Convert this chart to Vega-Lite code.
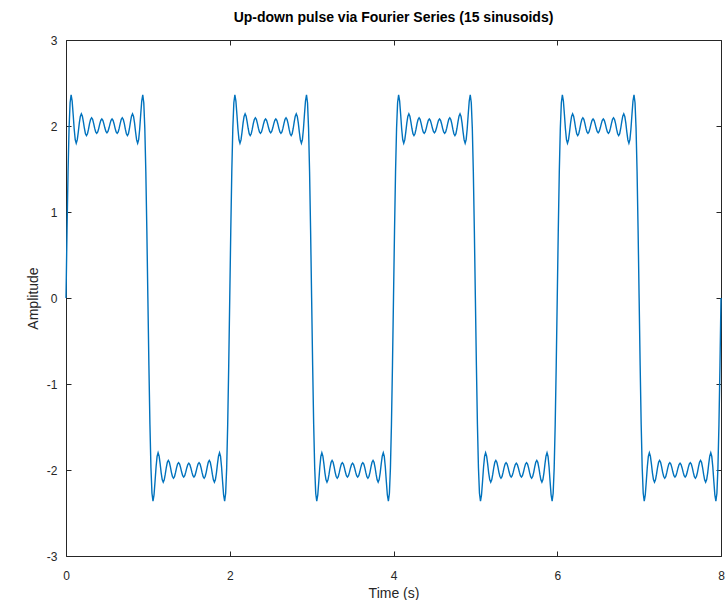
{
"$schema": "https://vega.github.io/schema/vega-lite/v6.json",
"width": 655, "height": 516,
"autosize": {"type": "none"},
"padding": {"left": 66, "top": 40, "right": 5, "bottom": 44},
"title": {"text": "Up-down pulse via Fourier Series (15 sinusoids)", "fontSize": 14, "fontWeight": "bold", "font": "Liberation Sans", "color": "#000000", "offset": 9, "anchor": "middle"},
"config": {"view": {"stroke": null}, "axis": {"domainColor": "#262626", "tickColor": "#262626", "labelColor": "#262626", "titleColor": "#262626", "labelFont": "Liberation Sans", "titleFont": "Liberation Sans", "labelFontSize": 12, "titleFontSize": 14, "titleFontWeight": "normal", "grid": false, "tickSize": -5, "domainWidth": 1, "tickWidth": 1, "labelFlush": false}},
"data": {"values": [
{"t":0,"a":0},{"t":0.0125,"a":0.783},{"t":0.025,"a":1.467},{"t":0.0375,"a":1.975},{"t":0.05,"a":2.271},{"t":0.0625,"a":2.361},{"t":0.075,"a":2.291},{"t":0.0875,"a":2.134},{"t":0.1,"a":1.965},{"t":0.1125,"a":1.843},
{"t":0.125,"a":1.8},{"t":0.1375,"a":1.838},{"t":0.15,"a":1.929},{"t":0.1625,"a":2.033},{"t":0.175,"a":2.112},{"t":0.1875,"a":2.141},{"t":0.2,"a":2.114},{"t":0.2125,"a":2.048},{"t":0.225,"a":1.971},{"t":0.2375,"a":1.911},
{"t":0.25,"a":1.889},{"t":0.2625,"a":1.91},{"t":0.275,"a":1.963},{"t":0.2875,"a":2.027},{"t":0.3,"a":2.076},{"t":0.3125,"a":2.095},{"t":0.325,"a":2.077},{"t":0.3375,"a":2.031},{"t":0.35,"a":1.975},{"t":0.3625,"a":1.931},
{"t":0.375,"a":1.914},{"t":0.3875,"a":1.931},{"t":0.4,"a":1.973},{"t":0.4125,"a":2.024},{"t":0.425,"a":2.065},{"t":0.4375,"a":2.081},{"t":0.45,"a":2.065},{"t":0.4625,"a":2.025},{"t":0.475,"a":1.976},{"t":0.4875,"a":1.936},
{"t":0.5,"a":1.921},{"t":0.5125,"a":1.936},{"t":0.525,"a":1.976},{"t":0.5375,"a":2.025},{"t":0.55,"a":2.065},{"t":0.5625,"a":2.081},{"t":0.575,"a":2.065},{"t":0.5875,"a":2.024},{"t":0.6,"a":1.973},{"t":0.6125,"a":1.931},
{"t":0.625,"a":1.914},{"t":0.6375,"a":1.931},{"t":0.65,"a":1.975},{"t":0.6625,"a":2.031},{"t":0.675,"a":2.077},{"t":0.6875,"a":2.095},{"t":0.7,"a":2.076},{"t":0.7125,"a":2.027},{"t":0.725,"a":1.963},{"t":0.7375,"a":1.91},
{"t":0.75,"a":1.889},{"t":0.7625,"a":1.911},{"t":0.775,"a":1.971},{"t":0.7875,"a":2.048},{"t":0.8,"a":2.114},{"t":0.8125,"a":2.141},{"t":0.825,"a":2.112},{"t":0.8375,"a":2.033},{"t":0.85,"a":1.929},{"t":0.8625,"a":1.838},
{"t":0.875,"a":1.8},{"t":0.8875,"a":1.843},{"t":0.9,"a":1.965},{"t":0.9125,"a":2.134},{"t":0.925,"a":2.291},{"t":0.9375,"a":2.361},{"t":0.95,"a":2.271},{"t":0.9625,"a":1.975},{"t":0.975,"a":1.467},{"t":0.9875,"a":0.783},
{"t":1,"a":0},{"t":1.0125,"a":-0.783},{"t":1.025,"a":-1.467},{"t":1.0375,"a":-1.975},{"t":1.05,"a":-2.271},{"t":1.0625,"a":-2.361},{"t":1.075,"a":-2.291},{"t":1.0875,"a":-2.134},{"t":1.1,"a":-1.965},{"t":1.1125,"a":-1.843},
{"t":1.125,"a":-1.8},{"t":1.1375,"a":-1.838},{"t":1.15,"a":-1.929},{"t":1.1625,"a":-2.033},{"t":1.175,"a":-2.112},{"t":1.1875,"a":-2.141},{"t":1.2,"a":-2.114},{"t":1.2125,"a":-2.048},{"t":1.225,"a":-1.971},{"t":1.2375,"a":-1.911},
{"t":1.25,"a":-1.889},{"t":1.2625,"a":-1.91},{"t":1.275,"a":-1.963},{"t":1.2875,"a":-2.027},{"t":1.3,"a":-2.076},{"t":1.3125,"a":-2.095},{"t":1.325,"a":-2.077},{"t":1.3375,"a":-2.031},{"t":1.35,"a":-1.975},{"t":1.3625,"a":-1.931},
{"t":1.375,"a":-1.914},{"t":1.3875,"a":-1.931},{"t":1.4,"a":-1.973},{"t":1.4125,"a":-2.024},{"t":1.425,"a":-2.065},{"t":1.4375,"a":-2.081},{"t":1.45,"a":-2.065},{"t":1.4625,"a":-2.025},{"t":1.475,"a":-1.976},{"t":1.4875,"a":-1.936},
{"t":1.5,"a":-1.921},{"t":1.5125,"a":-1.936},{"t":1.525,"a":-1.976},{"t":1.5375,"a":-2.025},{"t":1.55,"a":-2.065},{"t":1.5625,"a":-2.081},{"t":1.575,"a":-2.065},{"t":1.5875,"a":-2.024},{"t":1.6,"a":-1.973},{"t":1.6125,"a":-1.931},
{"t":1.625,"a":-1.914},{"t":1.6375,"a":-1.931},{"t":1.65,"a":-1.975},{"t":1.6625,"a":-2.031},{"t":1.675,"a":-2.077},{"t":1.6875,"a":-2.095},{"t":1.7,"a":-2.076},{"t":1.7125,"a":-2.027},{"t":1.725,"a":-1.963},{"t":1.7375,"a":-1.91},
{"t":1.75,"a":-1.889},{"t":1.7625,"a":-1.911},{"t":1.775,"a":-1.971},{"t":1.7875,"a":-2.048},{"t":1.8,"a":-2.114},{"t":1.8125,"a":-2.141},{"t":1.825,"a":-2.112},{"t":1.8375,"a":-2.033},{"t":1.85,"a":-1.929},{"t":1.8625,"a":-1.838},
{"t":1.875,"a":-1.8},{"t":1.8875,"a":-1.843},{"t":1.9,"a":-1.965},{"t":1.9125,"a":-2.134},{"t":1.925,"a":-2.291},{"t":1.9375,"a":-2.361},{"t":1.95,"a":-2.271},{"t":1.9625,"a":-1.975},{"t":1.975,"a":-1.467},{"t":1.9875,"a":-0.783},
{"t":2,"a":0},{"t":2.0125,"a":0.783},{"t":2.025,"a":1.467},{"t":2.0375,"a":1.975},{"t":2.05,"a":2.271},{"t":2.0625,"a":2.361},{"t":2.075,"a":2.291},{"t":2.0875,"a":2.134},{"t":2.1,"a":1.965},{"t":2.1125,"a":1.843},
{"t":2.125,"a":1.8},{"t":2.1375,"a":1.838},{"t":2.15,"a":1.929},{"t":2.1625,"a":2.033},{"t":2.175,"a":2.112},{"t":2.1875,"a":2.141},{"t":2.2,"a":2.114},{"t":2.2125,"a":2.048},{"t":2.225,"a":1.971},{"t":2.2375,"a":1.911},
{"t":2.25,"a":1.889},{"t":2.2625,"a":1.91},{"t":2.275,"a":1.963},{"t":2.2875,"a":2.027},{"t":2.3,"a":2.076},{"t":2.3125,"a":2.095},{"t":2.325,"a":2.077},{"t":2.3375,"a":2.031},{"t":2.35,"a":1.975},{"t":2.3625,"a":1.931},
{"t":2.375,"a":1.914},{"t":2.3875,"a":1.931},{"t":2.4,"a":1.973},{"t":2.4125,"a":2.024},{"t":2.425,"a":2.065},{"t":2.4375,"a":2.081},{"t":2.45,"a":2.065},{"t":2.4625,"a":2.025},{"t":2.475,"a":1.976},{"t":2.4875,"a":1.936},
{"t":2.5,"a":1.921},{"t":2.5125,"a":1.936},{"t":2.525,"a":1.976},{"t":2.5375,"a":2.025},{"t":2.55,"a":2.065},{"t":2.5625,"a":2.081},{"t":2.575,"a":2.065},{"t":2.5875,"a":2.024},{"t":2.6,"a":1.973},{"t":2.6125,"a":1.931},
{"t":2.625,"a":1.914},{"t":2.6375,"a":1.931},{"t":2.65,"a":1.975},{"t":2.6625,"a":2.031},{"t":2.675,"a":2.077},{"t":2.6875,"a":2.095},{"t":2.7,"a":2.076},{"t":2.7125,"a":2.027},{"t":2.725,"a":1.963},{"t":2.7375,"a":1.91},
{"t":2.75,"a":1.889},{"t":2.7625,"a":1.911},{"t":2.775,"a":1.971},{"t":2.7875,"a":2.048},{"t":2.8,"a":2.114},{"t":2.8125,"a":2.141},{"t":2.825,"a":2.112},{"t":2.8375,"a":2.033},{"t":2.85,"a":1.929},{"t":2.8625,"a":1.838},
{"t":2.875,"a":1.8},{"t":2.8875,"a":1.843},{"t":2.9,"a":1.965},{"t":2.9125,"a":2.134},{"t":2.925,"a":2.291},{"t":2.9375,"a":2.361},{"t":2.95,"a":2.271},{"t":2.9625,"a":1.975},{"t":2.975,"a":1.467},{"t":2.9875,"a":0.783},
{"t":3,"a":0},{"t":3.0125,"a":-0.783},{"t":3.025,"a":-1.467},{"t":3.0375,"a":-1.975},{"t":3.05,"a":-2.271},{"t":3.0625,"a":-2.361},{"t":3.075,"a":-2.291},{"t":3.0875,"a":-2.134},{"t":3.1,"a":-1.965},{"t":3.1125,"a":-1.843},
{"t":3.125,"a":-1.8},{"t":3.1375,"a":-1.838},{"t":3.15,"a":-1.929},{"t":3.1625,"a":-2.033},{"t":3.175,"a":-2.112},{"t":3.1875,"a":-2.141},{"t":3.2,"a":-2.114},{"t":3.2125,"a":-2.048},{"t":3.225,"a":-1.971},{"t":3.2375,"a":-1.911},
{"t":3.25,"a":-1.889},{"t":3.2625,"a":-1.91},{"t":3.275,"a":-1.963},{"t":3.2875,"a":-2.027},{"t":3.3,"a":-2.076},{"t":3.3125,"a":-2.095},{"t":3.325,"a":-2.077},{"t":3.3375,"a":-2.031},{"t":3.35,"a":-1.975},{"t":3.3625,"a":-1.931},
{"t":3.375,"a":-1.914},{"t":3.3875,"a":-1.931},{"t":3.4,"a":-1.973},{"t":3.4125,"a":-2.024},{"t":3.425,"a":-2.065},{"t":3.4375,"a":-2.081},{"t":3.45,"a":-2.065},{"t":3.4625,"a":-2.025},{"t":3.475,"a":-1.976},{"t":3.4875,"a":-1.936},
{"t":3.5,"a":-1.921},{"t":3.5125,"a":-1.936},{"t":3.525,"a":-1.976},{"t":3.5375,"a":-2.025},{"t":3.55,"a":-2.065},{"t":3.5625,"a":-2.081},{"t":3.575,"a":-2.065},{"t":3.5875,"a":-2.024},{"t":3.6,"a":-1.973},{"t":3.6125,"a":-1.931},
{"t":3.625,"a":-1.914},{"t":3.6375,"a":-1.931},{"t":3.65,"a":-1.975},{"t":3.6625,"a":-2.031},{"t":3.675,"a":-2.077},{"t":3.6875,"a":-2.095},{"t":3.7,"a":-2.076},{"t":3.7125,"a":-2.027},{"t":3.725,"a":-1.963},{"t":3.7375,"a":-1.91},
{"t":3.75,"a":-1.889},{"t":3.7625,"a":-1.911},{"t":3.775,"a":-1.971},{"t":3.7875,"a":-2.048},{"t":3.8,"a":-2.114},{"t":3.8125,"a":-2.141},{"t":3.825,"a":-2.112},{"t":3.8375,"a":-2.033},{"t":3.85,"a":-1.929},{"t":3.8625,"a":-1.838},
{"t":3.875,"a":-1.8},{"t":3.8875,"a":-1.843},{"t":3.9,"a":-1.965},{"t":3.9125,"a":-2.134},{"t":3.925,"a":-2.291},{"t":3.9375,"a":-2.361},{"t":3.95,"a":-2.271},{"t":3.9625,"a":-1.975},{"t":3.975,"a":-1.467},{"t":3.9875,"a":-0.783},
{"t":4,"a":0},{"t":4.0125,"a":0.783},{"t":4.025,"a":1.467},{"t":4.0375,"a":1.975},{"t":4.05,"a":2.271},{"t":4.0625,"a":2.361},{"t":4.075,"a":2.291},{"t":4.0875,"a":2.134},{"t":4.1,"a":1.965},{"t":4.1125,"a":1.843},
{"t":4.125,"a":1.8},{"t":4.1375,"a":1.838},{"t":4.15,"a":1.929},{"t":4.1625,"a":2.033},{"t":4.175,"a":2.112},{"t":4.1875,"a":2.141},{"t":4.2,"a":2.114},{"t":4.2125,"a":2.048},{"t":4.225,"a":1.971},{"t":4.2375,"a":1.911},
{"t":4.25,"a":1.889},{"t":4.2625,"a":1.91},{"t":4.275,"a":1.963},{"t":4.2875,"a":2.027},{"t":4.3,"a":2.076},{"t":4.3125,"a":2.095},{"t":4.325,"a":2.077},{"t":4.3375,"a":2.031},{"t":4.35,"a":1.975},{"t":4.3625,"a":1.931},
{"t":4.375,"a":1.914},{"t":4.3875,"a":1.931},{"t":4.4,"a":1.973},{"t":4.4125,"a":2.024},{"t":4.425,"a":2.065},{"t":4.4375,"a":2.081},{"t":4.45,"a":2.065},{"t":4.4625,"a":2.025},{"t":4.475,"a":1.976},{"t":4.4875,"a":1.936},
{"t":4.5,"a":1.921},{"t":4.5125,"a":1.936},{"t":4.525,"a":1.976},{"t":4.5375,"a":2.025},{"t":4.55,"a":2.065},{"t":4.5625,"a":2.081},{"t":4.575,"a":2.065},{"t":4.5875,"a":2.024},{"t":4.6,"a":1.973},{"t":4.6125,"a":1.931},
{"t":4.625,"a":1.914},{"t":4.6375,"a":1.931},{"t":4.65,"a":1.975},{"t":4.6625,"a":2.031},{"t":4.675,"a":2.077},{"t":4.6875,"a":2.095},{"t":4.7,"a":2.076},{"t":4.7125,"a":2.027},{"t":4.725,"a":1.963},{"t":4.7375,"a":1.91},
{"t":4.75,"a":1.889},{"t":4.7625,"a":1.911},{"t":4.775,"a":1.971},{"t":4.7875,"a":2.048},{"t":4.8,"a":2.114},{"t":4.8125,"a":2.141},{"t":4.825,"a":2.112},{"t":4.8375,"a":2.033},{"t":4.85,"a":1.929},{"t":4.8625,"a":1.838},
{"t":4.875,"a":1.8},{"t":4.8875,"a":1.843},{"t":4.9,"a":1.965},{"t":4.9125,"a":2.134},{"t":4.925,"a":2.291},{"t":4.9375,"a":2.361},{"t":4.95,"a":2.271},{"t":4.9625,"a":1.975},{"t":4.975,"a":1.467},{"t":4.9875,"a":0.783},
{"t":5,"a":0},{"t":5.0125,"a":-0.783},{"t":5.025,"a":-1.467},{"t":5.0375,"a":-1.975},{"t":5.05,"a":-2.271},{"t":5.0625,"a":-2.361},{"t":5.075,"a":-2.291},{"t":5.0875,"a":-2.134},{"t":5.1,"a":-1.965},{"t":5.1125,"a":-1.843},
{"t":5.125,"a":-1.8},{"t":5.1375,"a":-1.838},{"t":5.15,"a":-1.929},{"t":5.1625,"a":-2.033},{"t":5.175,"a":-2.112},{"t":5.1875,"a":-2.141},{"t":5.2,"a":-2.114},{"t":5.2125,"a":-2.048},{"t":5.225,"a":-1.971},{"t":5.2375,"a":-1.911},
{"t":5.25,"a":-1.889},{"t":5.2625,"a":-1.91},{"t":5.275,"a":-1.963},{"t":5.2875,"a":-2.027},{"t":5.3,"a":-2.076},{"t":5.3125,"a":-2.095},{"t":5.325,"a":-2.077},{"t":5.3375,"a":-2.031},{"t":5.35,"a":-1.975},{"t":5.3625,"a":-1.931},
{"t":5.375,"a":-1.914},{"t":5.3875,"a":-1.931},{"t":5.4,"a":-1.973},{"t":5.4125,"a":-2.024},{"t":5.425,"a":-2.065},{"t":5.4375,"a":-2.081},{"t":5.45,"a":-2.065},{"t":5.4625,"a":-2.025},{"t":5.475,"a":-1.976},{"t":5.4875,"a":-1.936},
{"t":5.5,"a":-1.921},{"t":5.5125,"a":-1.936},{"t":5.525,"a":-1.976},{"t":5.5375,"a":-2.025},{"t":5.55,"a":-2.065},{"t":5.5625,"a":-2.081},{"t":5.575,"a":-2.065},{"t":5.5875,"a":-2.024},{"t":5.6,"a":-1.973},{"t":5.6125,"a":-1.931},
{"t":5.625,"a":-1.914},{"t":5.6375,"a":-1.931},{"t":5.65,"a":-1.975},{"t":5.6625,"a":-2.031},{"t":5.675,"a":-2.077},{"t":5.6875,"a":-2.095},{"t":5.7,"a":-2.076},{"t":5.7125,"a":-2.027},{"t":5.725,"a":-1.963},{"t":5.7375,"a":-1.91},
{"t":5.75,"a":-1.889},{"t":5.7625,"a":-1.911},{"t":5.775,"a":-1.971},{"t":5.7875,"a":-2.048},{"t":5.8,"a":-2.114},{"t":5.8125,"a":-2.141},{"t":5.825,"a":-2.112},{"t":5.8375,"a":-2.033},{"t":5.85,"a":-1.929},{"t":5.8625,"a":-1.838},
{"t":5.875,"a":-1.8},{"t":5.8875,"a":-1.843},{"t":5.9,"a":-1.965},{"t":5.9125,"a":-2.134},{"t":5.925,"a":-2.291},{"t":5.9375,"a":-2.361},{"t":5.95,"a":-2.271},{"t":5.9625,"a":-1.975},{"t":5.975,"a":-1.467},{"t":5.9875,"a":-0.783},
{"t":6,"a":0},{"t":6.0125,"a":0.783},{"t":6.025,"a":1.467},{"t":6.0375,"a":1.975},{"t":6.05,"a":2.271},{"t":6.0625,"a":2.361},{"t":6.075,"a":2.291},{"t":6.0875,"a":2.134},{"t":6.1,"a":1.965},{"t":6.1125,"a":1.843},
{"t":6.125,"a":1.8},{"t":6.1375,"a":1.838},{"t":6.15,"a":1.929},{"t":6.1625,"a":2.033},{"t":6.175,"a":2.112},{"t":6.1875,"a":2.141},{"t":6.2,"a":2.114},{"t":6.2125,"a":2.048},{"t":6.225,"a":1.971},{"t":6.2375,"a":1.911},
{"t":6.25,"a":1.889},{"t":6.2625,"a":1.91},{"t":6.275,"a":1.963},{"t":6.2875,"a":2.027},{"t":6.3,"a":2.076},{"t":6.3125,"a":2.095},{"t":6.325,"a":2.077},{"t":6.3375,"a":2.031},{"t":6.35,"a":1.975},{"t":6.3625,"a":1.931},
{"t":6.375,"a":1.914},{"t":6.3875,"a":1.931},{"t":6.4,"a":1.973},{"t":6.4125,"a":2.024},{"t":6.425,"a":2.065},{"t":6.4375,"a":2.081},{"t":6.45,"a":2.065},{"t":6.4625,"a":2.025},{"t":6.475,"a":1.976},{"t":6.4875,"a":1.936},
{"t":6.5,"a":1.921},{"t":6.5125,"a":1.936},{"t":6.525,"a":1.976},{"t":6.5375,"a":2.025},{"t":6.55,"a":2.065},{"t":6.5625,"a":2.081},{"t":6.575,"a":2.065},{"t":6.5875,"a":2.024},{"t":6.6,"a":1.973},{"t":6.6125,"a":1.931},
{"t":6.625,"a":1.914},{"t":6.6375,"a":1.931},{"t":6.65,"a":1.975},{"t":6.6625,"a":2.031},{"t":6.675,"a":2.077},{"t":6.6875,"a":2.095},{"t":6.7,"a":2.076},{"t":6.7125,"a":2.027},{"t":6.725,"a":1.963},{"t":6.7375,"a":1.91},
{"t":6.75,"a":1.889},{"t":6.7625,"a":1.911},{"t":6.775,"a":1.971},{"t":6.7875,"a":2.048},{"t":6.8,"a":2.114},{"t":6.8125,"a":2.141},{"t":6.825,"a":2.112},{"t":6.8375,"a":2.033},{"t":6.85,"a":1.929},{"t":6.8625,"a":1.838},
{"t":6.875,"a":1.8},{"t":6.8875,"a":1.843},{"t":6.9,"a":1.965},{"t":6.9125,"a":2.134},{"t":6.925,"a":2.291},{"t":6.9375,"a":2.361},{"t":6.95,"a":2.271},{"t":6.9625,"a":1.975},{"t":6.975,"a":1.467},{"t":6.9875,"a":0.783},
{"t":7,"a":0},{"t":7.0125,"a":-0.783},{"t":7.025,"a":-1.467},{"t":7.0375,"a":-1.975},{"t":7.05,"a":-2.271},{"t":7.0625,"a":-2.361},{"t":7.075,"a":-2.291},{"t":7.0875,"a":-2.134},{"t":7.1,"a":-1.965},{"t":7.1125,"a":-1.843},
{"t":7.125,"a":-1.8},{"t":7.1375,"a":-1.838},{"t":7.15,"a":-1.929},{"t":7.1625,"a":-2.033},{"t":7.175,"a":-2.112},{"t":7.1875,"a":-2.141},{"t":7.2,"a":-2.114},{"t":7.2125,"a":-2.048},{"t":7.225,"a":-1.971},{"t":7.2375,"a":-1.911},
{"t":7.25,"a":-1.889},{"t":7.2625,"a":-1.91},{"t":7.275,"a":-1.963},{"t":7.2875,"a":-2.027},{"t":7.3,"a":-2.076},{"t":7.3125,"a":-2.095},{"t":7.325,"a":-2.077},{"t":7.3375,"a":-2.031},{"t":7.35,"a":-1.975},{"t":7.3625,"a":-1.931},
{"t":7.375,"a":-1.914},{"t":7.3875,"a":-1.931},{"t":7.4,"a":-1.973},{"t":7.4125,"a":-2.024},{"t":7.425,"a":-2.065},{"t":7.4375,"a":-2.081},{"t":7.45,"a":-2.065},{"t":7.4625,"a":-2.025},{"t":7.475,"a":-1.976},{"t":7.4875,"a":-1.936},
{"t":7.5,"a":-1.921},{"t":7.5125,"a":-1.936},{"t":7.525,"a":-1.976},{"t":7.5375,"a":-2.025},{"t":7.55,"a":-2.065},{"t":7.5625,"a":-2.081},{"t":7.575,"a":-2.065},{"t":7.5875,"a":-2.024},{"t":7.6,"a":-1.973},{"t":7.6125,"a":-1.931},
{"t":7.625,"a":-1.914},{"t":7.6375,"a":-1.931},{"t":7.65,"a":-1.975},{"t":7.6625,"a":-2.031},{"t":7.675,"a":-2.077},{"t":7.6875,"a":-2.095},{"t":7.7,"a":-2.076},{"t":7.7125,"a":-2.027},{"t":7.725,"a":-1.963},{"t":7.7375,"a":-1.91},
{"t":7.75,"a":-1.889},{"t":7.7625,"a":-1.911},{"t":7.775,"a":-1.971},{"t":7.7875,"a":-2.048},{"t":7.8,"a":-2.114},{"t":7.8125,"a":-2.141},{"t":7.825,"a":-2.112},{"t":7.8375,"a":-2.033},{"t":7.85,"a":-1.929},{"t":7.8625,"a":-1.838},
{"t":7.875,"a":-1.8},{"t":7.8875,"a":-1.843},{"t":7.9,"a":-1.965},{"t":7.9125,"a":-2.134},{"t":7.925,"a":-2.291},{"t":7.9375,"a":-2.361},{"t":7.95,"a":-2.271},{"t":7.9625,"a":-1.975},{"t":7.975,"a":-1.467},{"t":7.9875,"a":-0.783},
{"t":8,"a":0}
]},
"layer": [
{"mark": {"type": "line", "color": "#0072BD", "strokeWidth": 1.4},
 "encoding": {
  "x": {"field": "t", "type": "quantitative", "scale": {"domain": [0, 8], "nice": false, "zero": false},
        "axis": {"values": [0, 2, 4, 6, 8], "title": "Time (s)", "labelPadding": 19, "titlePadding": 5, "labelExpr": "'' + datum.value"}},
  "y": {"field": "a", "type": "quantitative", "scale": {"domain": [-3, 3], "nice": false, "zero": false},
        "axis": {"values": [-3, -2, -1, 0, 1, 2, 3], "title": "Amplitude", "labelPadding": 14, "titlePadding": 6, "labelExpr": "'' + datum.value"}}
 }},
{"mark": {"type": "line", "opacity": 0},
 "encoding": {
  "x": {"field": "t", "type": "quantitative", "axis": {"orient": "top", "values": [0, 2, 4, 6, 8], "labels": false, "title": null}},
  "y": {"field": "a", "type": "quantitative", "axis": {"orient": "right", "values": [-3, -2, -1, 0, 1, 2, 3], "labels": false, "title": null}}
 }}
],
"resolve": {"axis": {"x": "independent", "y": "independent"}}
}
